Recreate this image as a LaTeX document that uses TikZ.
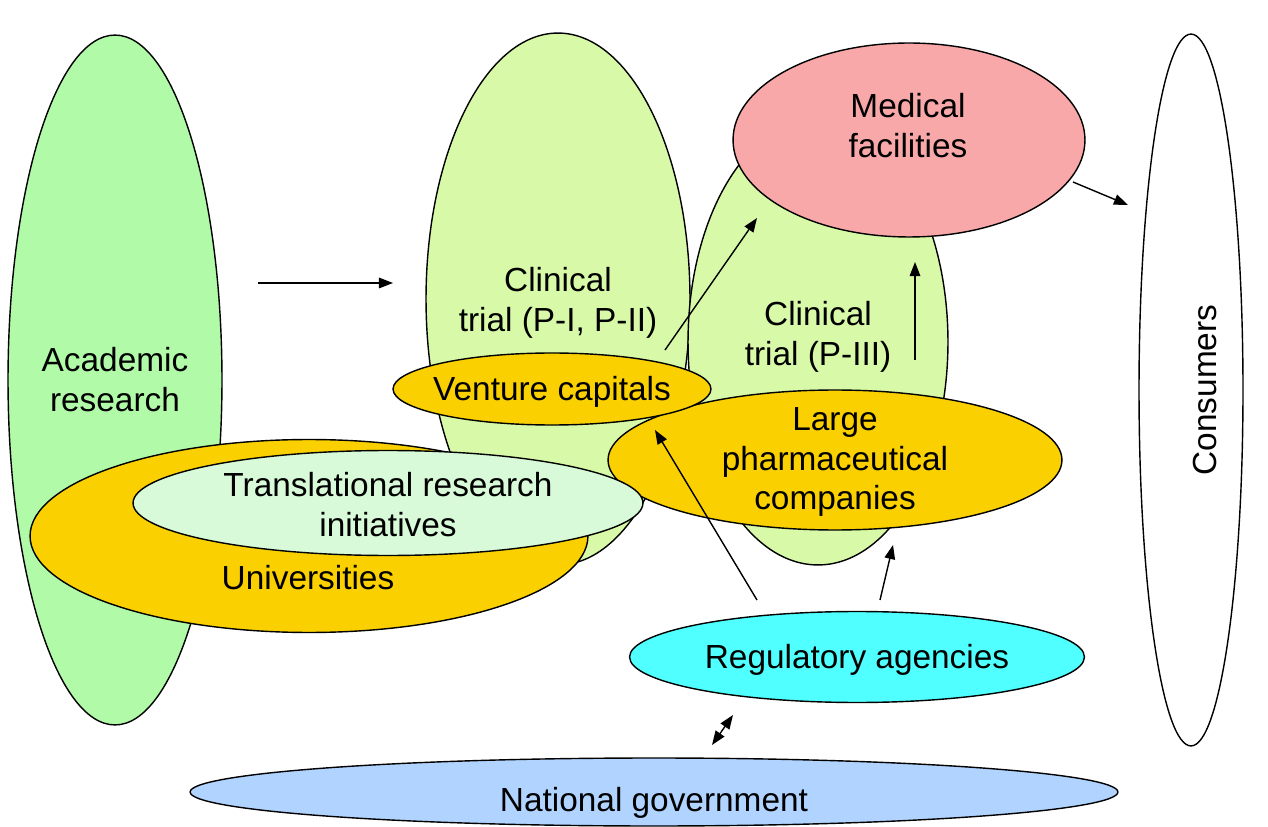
\documentclass[tikz,border=0pt]{standalone}
\usepackage{fontspec}
\setmainfont{Liberation Sans}
\usetikzlibrary{shapes.geometric,arrows.meta}
\definecolor{academicGreen}{RGB}{176,250,168}
\definecolor{trialGreen}{RGB}{216,250,168}
\definecolor{medicalPink}{RGB}{248,168,168}
\definecolor{companyGold}{RGB}{250,208,0}
\definecolor{paleGreen}{RGB}{216,250,216}
\definecolor{agencyCyan}{RGB}{80,255,255}
\definecolor{governmentBlue}{RGB}{176,212,255}

\begin{document}
\begin{tikzpicture}[%
  x=0.02cm,y=-0.02cm,%
  blobStyle/.style={draw,ellipse,inner sep=0pt,line width=0.8pt},%
  textStyle/.style={align=center,inner sep=0pt,font=\fontsize{19}{22.7}\selectfont},%
  arrowStyle/.style={-{Triangle[length=8pt,width=6pt]},line width=0.8pt},%
  bothStyle/.style={{Triangle[length=8pt,width=6pt]}-{Triangle[length=8pt,width=6pt]},line width=0.8pt}%
]
%
% Picture frame, in pixels of the original.
\useasboundingbox (0,0) rectangle (1268,827);
%
% The ellipses, back to front.
\node[blobStyle,fill=academicGreen,minimum width=4.28cm,minimum height=13.8cm] (academic) at (115,380) {};
\node[blobStyle,fill=trialGreen,minimum width=5.28cm,minimum height=10.64cm] (trialEarly) at (558,299) {};
\node[blobStyle,fill=trialGreen,minimum width=5.2cm,minimum height=8.92cm] (trialLate) at (818,342) {};
\node[blobStyle,fill=medicalPink,minimum width=7.04cm,minimum height=3.88cm] (medical) at (909,140) {};
\node[blobStyle,fill=white,minimum width=2.08cm,minimum height=14.24cm] (consumers) at (1191,390) {};
\node[blobStyle,fill=companyGold,minimum width=11.16cm,minimum height=3.86cm] (universities) at (309,536) {};
\node[blobStyle,fill=companyGold,minimum width=9.08cm,minimum height=2.8cm] (pharma) at (835,460) {};
\node[blobStyle,fill=paleGreen,minimum width=10.2cm,minimum height=2.1cm] (translational) at (388,503) {};
\node[blobStyle,fill=companyGold,minimum width=6.36cm,minimum height=1.44cm] (venture) at (552,389) {};
\node[blobStyle,fill=agencyCyan,minimum width=9.1cm,minimum height=1.82cm] (regulatory) at (857,657) {};
\node[blobStyle,fill=governmentBlue,minimum width=18.56cm,minimum height=1.36cm] (government) at (654,792) {};
%
% The labels.
\node[textStyle] (academicText) at (115,380) {Academic\\research};
\node[textStyle] (trialEarlyText) at (558,303) {Clinical\\trial (P-I, P-II)};
\node[textStyle] (trialLateText) at (818,337) {Clinical\\trial (P-III)};
\node[textStyle] (medicalText) at (908,126) {Medical\\facilities};
\node[textStyle,rotate=90] (consumersText) at (1205,390) {Consumers};
\node[textStyle] (universitiesText) at (308,578) {Universities};
\node[textStyle] (translationalText) at (388,505) {Translational research\\initiatives};
\node[textStyle] (ventureText) at (552,392) {Venture capitals};
\node[textStyle] (pharmaText) at (835,462) {Large\\pharmaceutical\\companies};
\node[textStyle] (regulatoryText) at (857,660) {Regulatory agencies};
\node[textStyle] (governmentText) at (654,803) {National government};
%
% Arrow ends.
\coordinate (researchOut) at (258,283);
\coordinate (trialIn) at (393,283);
\coordinate (ventureOut) at (665,350);
\coordinate (medicalIn) at (757,218);
\coordinate (lateOut) at (915,360);
\coordinate (lateIn) at (915,262);
\coordinate (medicalOut) at (1073,182);
\coordinate (consumersIn) at (1128,205);
\coordinate (agencyLeft) at (757,600);
\coordinate (ventureIn) at (655,430);
\coordinate (agencyRight) at (880,600);
\coordinate (pharmaIn) at (893,545);
\coordinate (governmentUp) at (712,745);
\coordinate (agencyDown) at (733,715);
%
% The arrows.  Must be drawn last.
\draw[arrowStyle] (researchOut) -- (trialIn);
\draw[arrowStyle] (ventureOut) -- (medicalIn);
\draw[arrowStyle] (lateOut) -- (lateIn);
\draw[arrowStyle] (medicalOut) -- (consumersIn);
\draw[arrowStyle] (agencyLeft) -- (ventureIn);
\draw[arrowStyle] (agencyRight) -- (pharmaIn);
\draw[bothStyle] (governmentUp) -- (agencyDown);
\end{tikzpicture}
\end{document}
